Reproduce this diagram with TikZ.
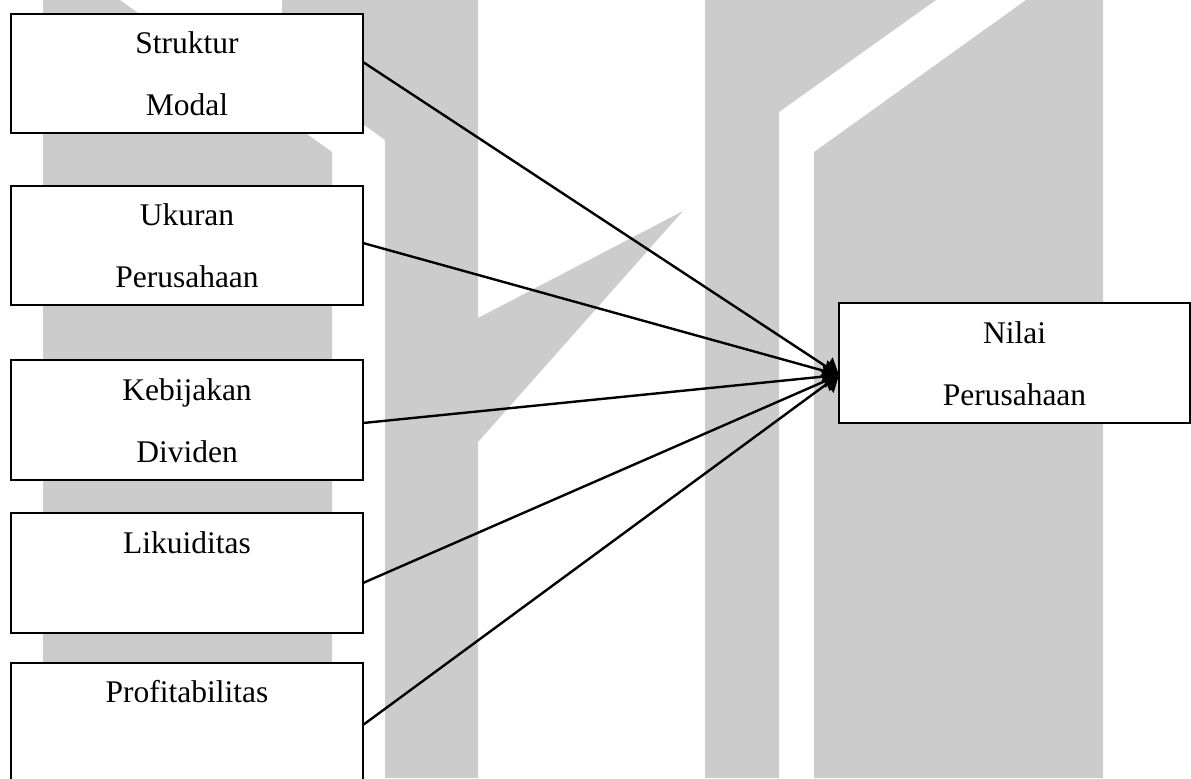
\documentclass[tikz,border=0pt]{standalone}
\usepackage{fontspec}
\setmainfont{Liberation Serif}
\usetikzlibrary{arrows.meta}
\definecolor{wm}{RGB}{204,204,204}
\begin{document}
\begin{tikzpicture}[x=0.5pt,y=-0.5pt,
  box/.style={draw=black,line width=1pt,fill=white,rectangle,minimum width=176pt,minimum height=59.5pt,inner sep=0pt,outer sep=0pt},
  lbl/.style={font=\fontsize{15.75pt}{18pt}\selectfont,inner sep=0pt,anchor=base},
  link/.style={line width=1.2pt,-{Triangle[length=7.5pt,width=11pt]}},
  wmark/.style={fill=wm,draw=none}]
\useasboundingbox (0,0) rectangle (1191,778);
% watermark
\fill[wmark] (43,0) -- (120,0) -- (332,152) -- (332,778) -- (43,778) -- cycle;
\fill[wmark] (282,0) -- (385,0) -- (385,140) -- (282,66) -- cycle;
\fill[wmark] (385,0) -- (478,0) -- (478,318) -- (683,211) -- (478,442) -- (478,778) -- (385,778) -- cycle;
\fill[wmark] (705,0) -- (936,0) -- (779,112) -- (779,778) -- (705,778) -- cycle;
\fill[wmark] (1026,0) -- (1103,0) -- (1103,778) -- (814,778) -- (814,152) -- cycle;
% boxes
\node[box] (b1) at (187,73.5) {};
\node[box] (b2) at (187,245.5) {};
\node[box,minimum height=60pt] (b3) at (187,420) {};
\node[box,minimum height=60pt] (b4) at (187,573) {};
\node[box,minimum height=61pt] (b5) at (187,724) {};
\node[box,minimum width=175.5pt,minimum height=60pt] (nv) at (1014.5,363) {};
% labels
\node[lbl] (t1a) at ([yshift=-19.75pt]b1.north) {Struktur};
\node[lbl] (t1b) at ([yshift=-50.75pt]b1.north) {Modal};
\node[lbl] (t2a) at ([yshift=-19.75pt]b2.north) {Ukuran};
\node[lbl] (t2b) at ([yshift=-50.75pt]b2.north) {Perusahaan};
\node[lbl] (t3a) at ([yshift=-20pt]b3.north) {Kebijakan};
\node[lbl] (t3b) at ([yshift=-51pt]b3.north) {Dividen};
\node[lbl] (t4a) at ([yshift=-20pt]b4.north) {Likuiditas};
\node[lbl] (t5a) at ([yshift=-19.5pt]b5.north) {Profitabilitas};
\node[lbl] (tna) at ([yshift=-20pt]nv.north) {Nilai};
\node[lbl] (tnb) at ([yshift=-51pt]nv.north) {Perusahaan};
% connectors
\coordinate (tip) at ([yshift=-6pt]nv.west);
\draw[link] ([yshift=5.75pt]b1.east) -- (tip);
\draw[link] ([yshift=1.25pt]b2.east) -- (tip);
\draw[link] ([yshift=-1.5pt]b3.east) -- (tip);
\draw[link] ([yshift=-5pt]b4.east) -- (tip);
\draw[link] ([yshift=-0.5pt]b5.east) -- (tip);
\end{tikzpicture}
\end{document}
